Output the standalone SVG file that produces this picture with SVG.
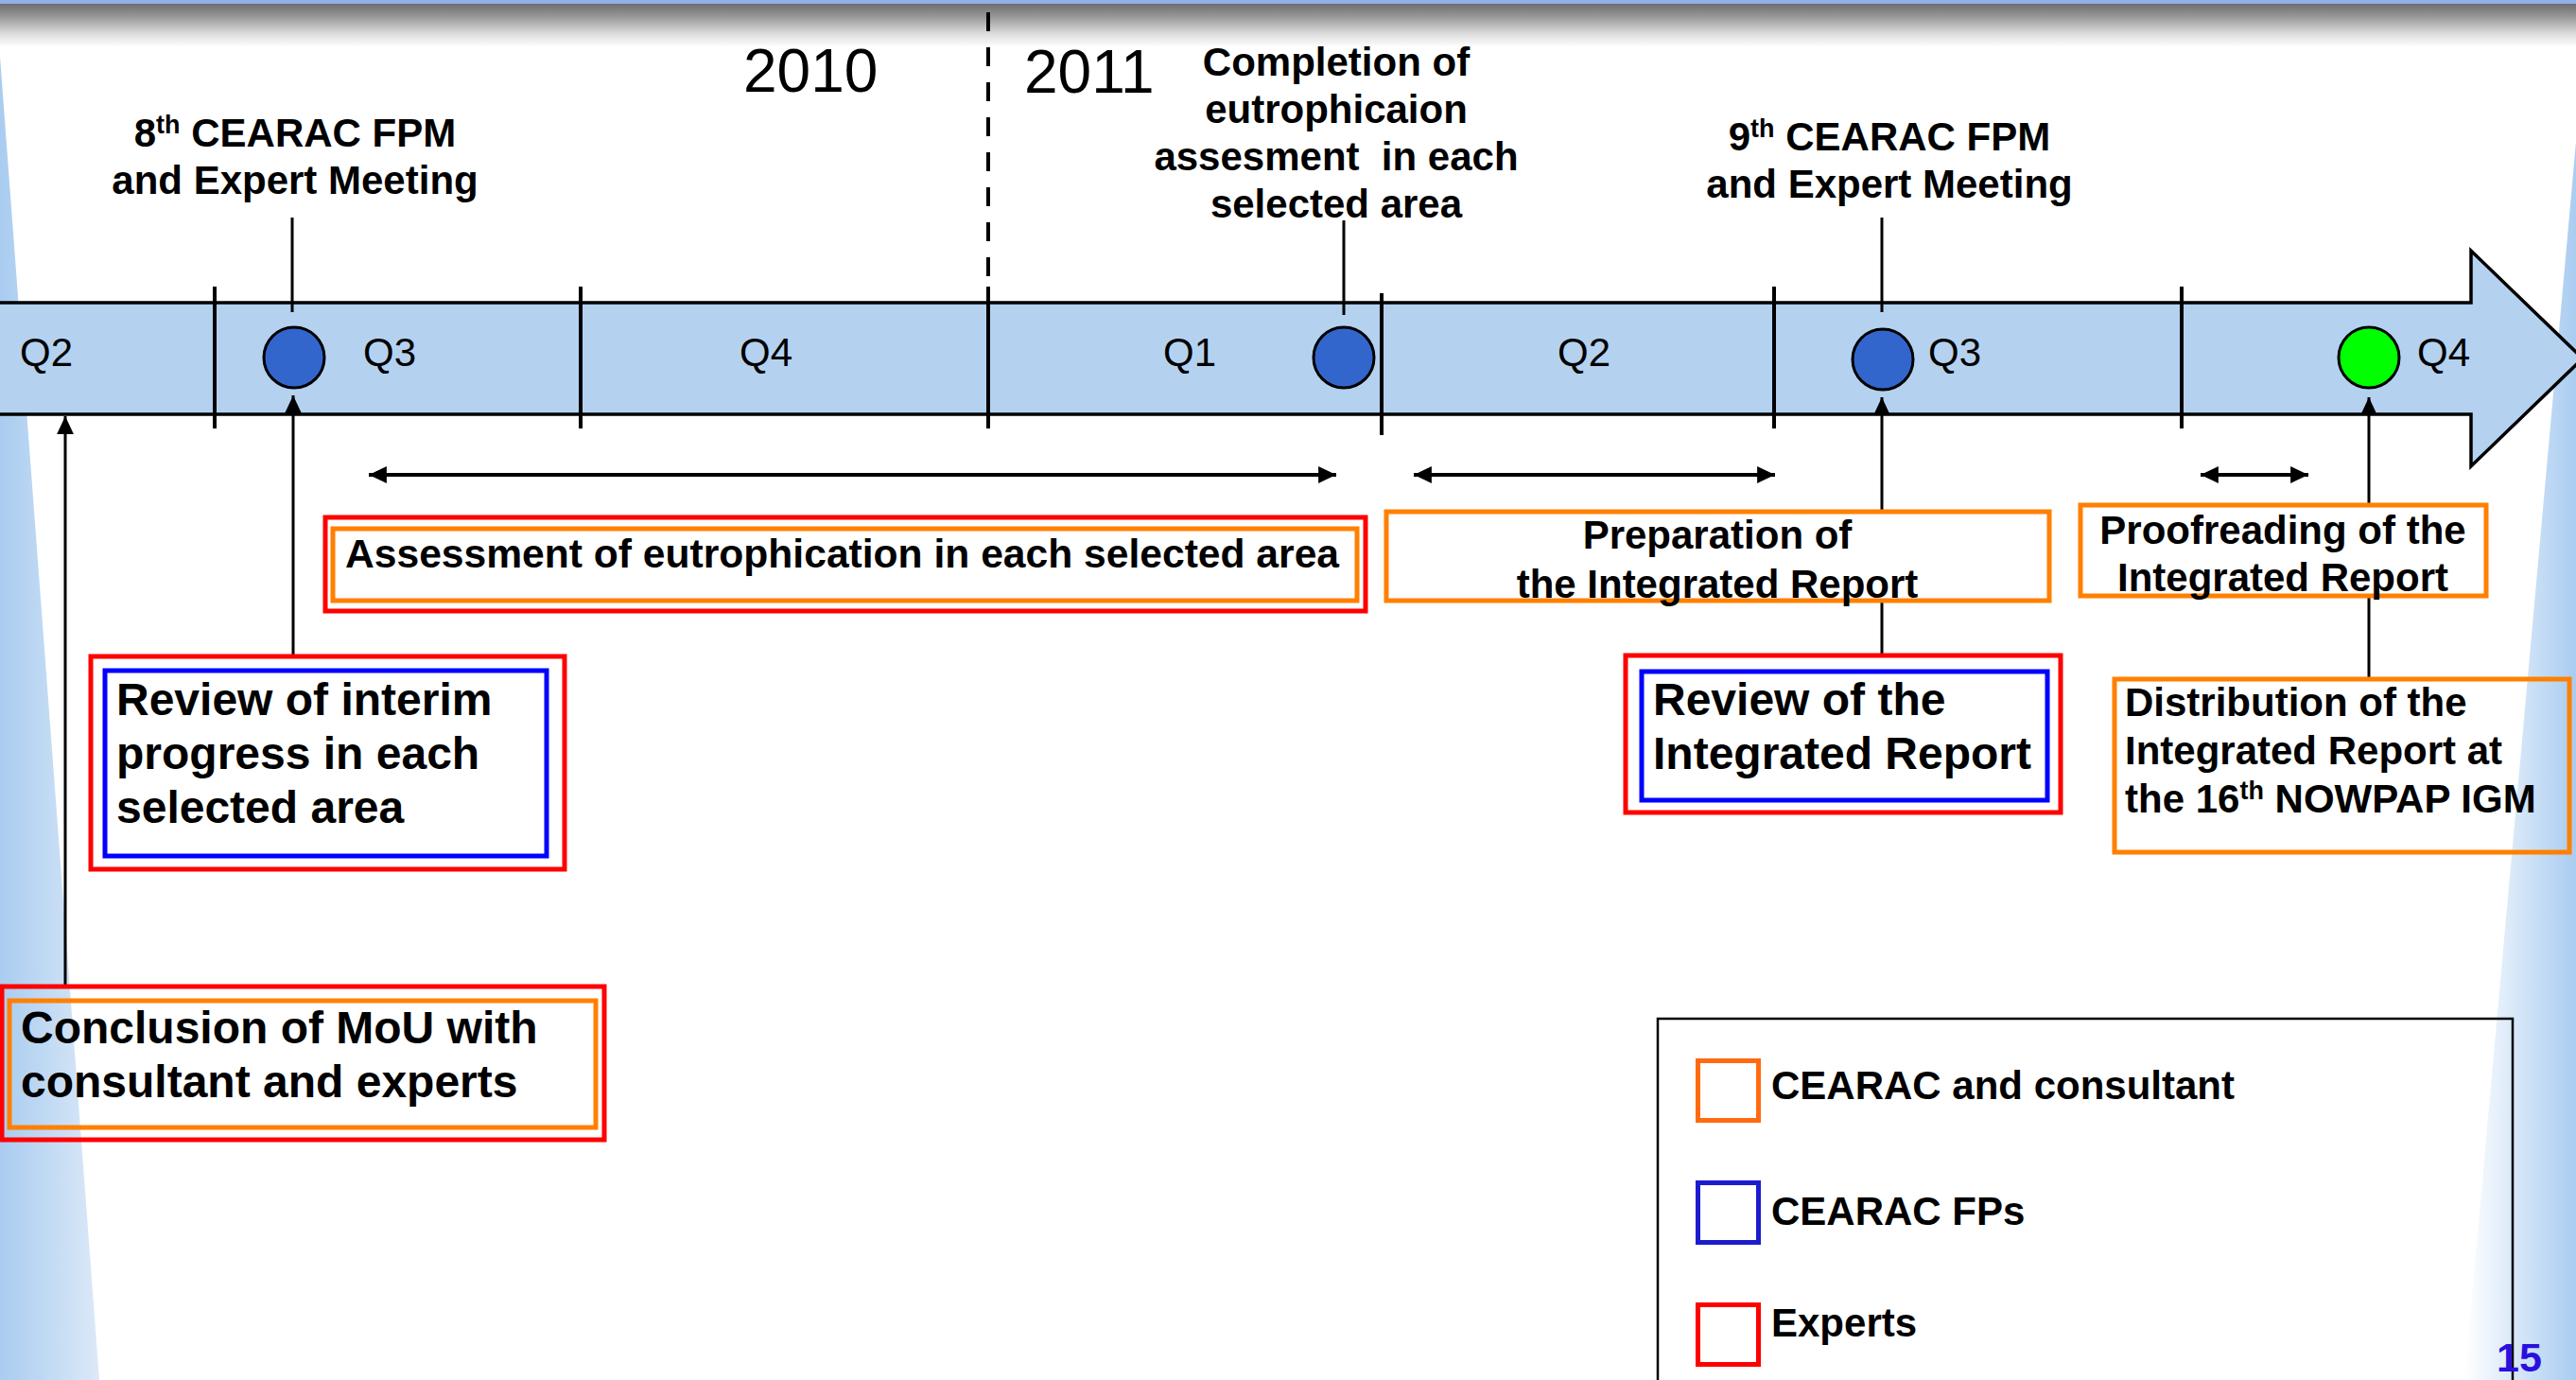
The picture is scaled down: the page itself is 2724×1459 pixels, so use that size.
<svg xmlns="http://www.w3.org/2000/svg" width="2724" height="1459" viewBox="0 0 2724 1459">
<defs>
<linearGradient id="gTop" x1="0" y1="0" x2="0" y2="1">
<stop offset="0" stop-color="#6e6e6e"/>
<stop offset="0.3" stop-color="#989898"/>
<stop offset="0.7" stop-color="#dedede"/>
<stop offset="1" stop-color="#ffffff"/>
</linearGradient>
<linearGradient id="gLeft" x1="0" y1="0" x2="1" y2="0">
<stop offset="0" stop-color="#a9ccf0"/>
<stop offset="1" stop-color="#dce9f8"/>
</linearGradient>
<linearGradient id="gRight" x1="0" y1="0" x2="1" y2="0">
<stop offset="0" stop-color="#ffffff"/>
<stop offset="1" stop-color="#a9ccf0"/>
</linearGradient>
<marker id="ah" markerUnits="userSpaceOnUse" markerWidth="20" markerHeight="20" viewBox="0 0 18 18" refX="17" refY="9" orient="auto-start-reverse">
<path d="M0,1 L17,9 L0,17 Z" fill="#000"/>
</marker>
<style>
text{font-family:"Liberation Sans",Arial,sans-serif;fill:#000}
.b{font-weight:bold;font-size:42px}
.b48{font-weight:bold;font-size:48px}
.q{font-size:42px}
.yr{font-size:64px}
.mid{text-anchor:middle}
.sup{font-size:27px}
.red{fill:none;stroke:#ff0000;stroke-width:5}
.org{fill:none;stroke:#ff8000;stroke-width:5}
.blu{fill:none;stroke:#0000ff;stroke-width:5}
.wfill{fill:#ffffff}
.tick{stroke:#000;stroke-width:4}
.con{stroke:#000;stroke-width:3;fill:none}
.dbl{stroke:#000;stroke-width:4;fill:none}
.dot{fill:#3366cc;stroke:#000;stroke-width:3}
</style>
</defs>
<rect x="0" y="0" width="2724" height="1459" fill="#ffffff"/>
<g id="background">
<polygon points="0,60 105,1459 0,1459" fill="url(#gLeft)"/>
<polygon points="2724,150 2606,1459 2724,1459" fill="url(#gRight)"/>
<rect x="0" y="4" width="2724" height="46" fill="url(#gTop)"/>
<rect x="0" y="0" width="2724" height="4" fill="#94aee6"/>
</g>
<g id="timeline">
<path d="M-5,320 H2613 V265 L2731,379 L2613,493 V438 H-5 Z" fill="#b4d2f0" stroke="#000" stroke-width="3.5"/>
<line class="tick" x1="227" y1="303" x2="227" y2="453"/>
<line class="tick" x1="614" y1="303" x2="614" y2="453"/>
<line class="tick" x1="1045" y1="303" x2="1045" y2="453"/>
<line class="tick" x1="1461" y1="310" x2="1461" y2="460"/>
<line class="tick" x1="1876" y1="303" x2="1876" y2="453"/>
<line class="tick" x1="2307" y1="303" x2="2307" y2="453"/>
<line x1="1045" y1="13" x2="1045" y2="303" stroke="#000" stroke-width="4" stroke-dasharray="20 17"/>
<text class="q" x="21" y="387">Q2</text>
<text class="q" x="384" y="387">Q3</text>
<text class="q" x="782" y="387">Q4</text>
<text class="q" x="1230" y="387">Q1</text>
<text class="q" x="1647" y="387">Q2</text>
<text class="q" x="2039" y="387">Q3</text>
<text class="q" x="2556" y="387">Q4</text>
<text class="yr" x="786" y="97">2010</text>
<text class="yr" x="1083" y="98">2011</text>
</g>
<g id="milestones">
<circle id="m8" class="dot" cx="311" cy="378" r="32"/>
<circle id="mcomp" class="dot" cx="1421" cy="378" r="32"/>
<circle id="m9" class="dot" cx="1991" cy="380" r="32"/>
<circle id="migm" cx="2505" cy="378" r="32" fill="#00ff00" stroke="#000" stroke-width="3"/>
</g>
<g id="connectors">
<line class="con" x1="309" y1="230" x2="309" y2="330"/>
<line class="con" x1="1421" y1="233" x2="1421" y2="333"/>
<line class="con" x1="1990" y1="230" x2="1990" y2="330"/>
<line class="con" x1="69" y1="1043" x2="69" y2="440" marker-end="url(#ah)"/>
<line class="con" x1="310" y1="709" x2="310" y2="418" marker-end="url(#ah)"/>
<line class="con" x1="1990" y1="710" x2="1990" y2="420" marker-end="url(#ah)"/>
<line class="con" x1="2505" y1="718" x2="2505" y2="420" marker-end="url(#ah)"/>
<line class="dbl" x1="390" y1="502" x2="1413" y2="502" marker-start="url(#ah)" marker-end="url(#ah)"/>
<line class="dbl" x1="1495" y1="502" x2="1877" y2="502" marker-start="url(#ah)" marker-end="url(#ah)"/>
<line class="dbl" x1="2327" y1="502" x2="2441" y2="502" marker-start="url(#ah)" marker-end="url(#ah)"/>
</g>
<g id="label-8th">
<text class="b mid" x="312" y="155">8<tspan class="sup" dy="-14">th</tspan><tspan dy="14"> CEARAC FPM</tspan></text>
<text class="b mid" x="312" y="205">and Expert Meeting</text>
</g>
<g id="label-completion">
<text class="b mid" x="1413" y="80">Completion of</text>
<text class="b mid" x="1413" y="130">eutrophicaion</text>
<text class="b mid" x="1413" y="180" xml:space="preserve">assesment  in each</text>
<text class="b mid" x="1413" y="230">selected area</text>
</g>
<g id="label-9th">
<text class="b mid" x="1998" y="159">9<tspan class="sup" dy="-14">th</tspan><tspan dy="14"> CEARAC FPM</tspan></text>
<text class="b mid" x="1998" y="209">and Expert Meeting</text>
</g>
<g id="box-assessment">
<rect class="red wfill" x="344" y="547" width="1100" height="99"/>
<rect class="org" x="352" y="559" width="1083" height="76"/>
<text class="b" x="365" y="600" style="font-size:42.6px">Assessment of eutrophication in each selected area</text>
</g>
<g id="box-review-interim">
<rect class="red wfill" x="96" y="694" width="501" height="225"/>
<rect class="blu" x="111" y="709" width="467" height="196"/>
<text class="b48" x="123" y="756">Review of interim</text>
<text class="b48" x="123" y="813">progress in each</text>
<text class="b48" x="123" y="870">selected area</text>
</g>
<g id="box-conclusion">
<rect class="red" x="2" y="1043" width="637" height="162"/>
<rect class="org" x="10" y="1058" width="620" height="134"/>
<text class="b48" x="22" y="1103">Conclusion of MoU with</text>
<text class="b48" x="22" y="1160">consultant and experts</text>
</g>
<g id="box-preparation">
<rect class="org wfill" x="1466" y="541" width="701" height="94"/>
<text class="b mid" x="1816" y="580">Preparation of</text>
<text class="b mid" x="1816" y="632">the Integrated Report</text>
</g>
<g id="box-proofreading">
<rect class="org wfill" x="2200" y="534" width="429" height="96"/>
<text class="b mid" x="2414" y="575">Proofreading of the</text>
<text class="b mid" x="2414" y="625">Integrated Report</text>
</g>
<g id="box-review-ir">
<rect class="red wfill" x="1719" y="693" width="460" height="166"/>
<rect class="blu" x="1736" y="710" width="429" height="136"/>
<text class="b48" x="1748" y="756">Review of the</text>
<text class="b48" x="1748" y="813">Integrated Report</text>
</g>
<g id="box-distribution">
<rect class="org" x="2236" y="718" width="481" height="183"/>
<text class="b" x="2247" y="757">Distribution of the</text>
<text class="b" x="2247" y="808">Integrated Report at</text>
<text class="b" x="2247" y="859">the 16<tspan class="sup" dy="-14">th</tspan><tspan dy="14"> NOWPAP IGM</tspan></text>
</g>
<g id="legend">
<rect x="1753" y="1077" width="904" height="420" fill="none" stroke="#000" stroke-width="2.5"/>
<rect x="1795.5" y="1121.5" width="64" height="63" fill="none" stroke="#ff6a10" stroke-width="5"/>
<text class="b" x="1873" y="1162">CEARAC and consultant</text>
<rect x="1795.5" y="1250.5" width="64" height="63" fill="none" stroke="#1c1ccc" stroke-width="5"/>
<text class="b" x="1873" y="1295">CEARAC FPs</text>
<rect x="1795.5" y="1379.5" width="64" height="63" fill="none" stroke="#ff0000" stroke-width="5"/>
<text class="b" x="1873" y="1413">Experts</text>
</g>
<text x="2640" y="1450" style="font-weight:bold;font-size:43px;fill:#2a10dd">15</text>
</svg>
